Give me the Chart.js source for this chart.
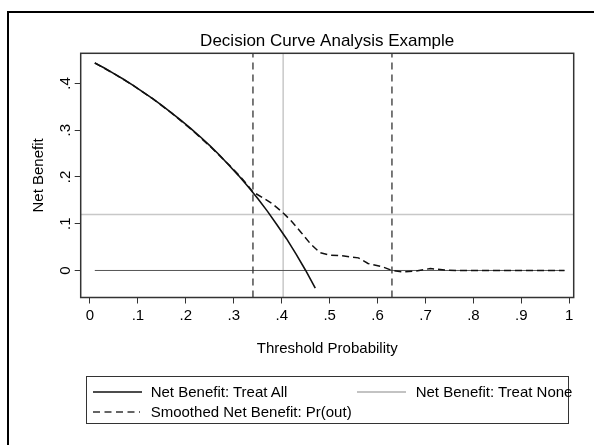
<!DOCTYPE html>
<html><head><meta charset="utf-8">
<script src="https://cdn.jsdelivr.net/npm/chart.js@4/dist/chart.umd.min.js"></script>
<style>
html,body{margin:0;padding:0;background:#fff;overflow:hidden;}
#wrap{position:relative;width:594px;height:445px;overflow:hidden;background:#fff;}
#frame{position:absolute;left:7px;top:11px;width:1000px;height:1000px;border:2px solid #000;}
canvas{position:absolute;left:0;top:0;}
#legend{position:absolute;left:86px;top:376px;width:481px;height:46px;border:1px solid #333;}
.ltext{position:absolute;white-space:nowrap;line-height:18px;font:15px 'Liberation Sans',Arial,sans-serif;color:#000;}
svg.ls{position:absolute;overflow:visible;}
</style></head>
<body><div id="wrap"><div id="frame"></div><canvas id="c" width="594" height="445"></canvas><div id="legend"></div></div>
<script>
// ---- data ----
const chartTitle = 'Decision Curve Analysis Example';
const xTitle = 'Threshold Probability';
const yTitle = 'Net Benefit';
const seriesNames = ['Net Benefit: Treat All', 'Net Benefit: Treat None', 'Smoothed Net Benefit: Pr(out)'];

const xTicks = [0, 0.1, 0.2, 0.3, 0.4, 0.5, 0.6, 0.7, 0.8, 0.9, 1];
const xTickLabels = ['0', '.1', '.2', '.3', '.4', '.5', '.6', '.7', '.8', '.9', '1'];
const yTicks = [0, 0.1, 0.2, 0.3, 0.4];
const yTickLabels = ['0', '.1', '.2', '.3', '.4'];

const treatAllX = [0.01,0.03,0.05,0.07,0.09,0.11,0.13,0.15,0.17,0.19,0.21,0.23,0.25,0.27,0.29,0.31,0.33,0.35,0.37,0.39,0.41,0.43,0.45,0.47];
const treatAllY = [0.444,0.433,0.421,0.409,0.396,0.382,0.368,0.353,0.337,0.321,0.304,0.286,0.267,0.247,0.225,0.203,0.179,0.154,0.127,0.098,0.068,0.035,0.000,-0.038];

const treatNoneX = [0.01, 0.99];
const treatNoneY = [0, 0];

const smoothX = [0.01,0.05,0.09,0.13,0.17,0.21,0.25,0.29,0.31,0.33,0.34,0.36,0.38,0.40,0.42,0.44,0.46,0.48,0.50,0.53,0.56,0.58,0.61,0.63,0.65,0.68,0.71,0.74,0.77,0.80,0.85,0.90,0.95,0.99];
const smoothY = [0.444,0.421,0.396,0.368,0.337,0.303,0.266,0.226,0.205,0.181,0.168,0.156,0.143,0.126,0.106,0.082,0.057,0.038,0.033,0.031,0.027,0.015,0.008,0.000,-0.003,-0.001,0.004,0.001,0,0,0,0,0,0];

const dashedRefX = [0.34, 0.63];
const grayRefX = [0.403];
const grayRefY = [0.12];

const xMin = -0.0194, xMax = 1.0092;
const yMin = -0.0578, yMax = 0.4646;

// ---- build ----
const FONT = "'Liberation Sans', Arial, sans-serif";
const pts = (xs, ys) => xs.map((x, i) => ({x: x, y: ys[i]}));

const datasets = [];
grayRefX.forEach(v => datasets.push({label: 'ref', data: [{x: v, y: yMin}, {x: v, y: yMax}], borderColor: '#c8c8c8', borderWidth: 1.5, order: 10}));
grayRefY.forEach(v => datasets.push({label: 'ref', data: [{x: xMin, y: v}, {x: xMax, y: v}], borderColor: '#c8c8c8', borderWidth: 1.5, order: 10}));
datasets.push({label: seriesNames[1], data: pts(treatNoneX, treatNoneY), borderColor: '#555', borderWidth: 1, order: 8});
dashedRefX.forEach(v => datasets.push({label: 'ref', data: [{x: v, y: yMin}, {x: v, y: yMax}], borderColor: '#333', borderWidth: 1.3, borderDash: [7, 5], order: 7}));
datasets.push({label: seriesNames[0], data: pts(treatAllX, treatAllY), borderColor: '#111', borderWidth: 1.6, order: 2});
datasets.push({label: seriesNames[2], data: pts(smoothX, smoothY), borderColor: '#111', borderWidth: 1.5, borderDash: [7, 4], order: 1});
datasets.forEach(d => { d.pointRadius = 0; d.tension = 0; d.fill = false; });

const plotBorder = {
  id: 'plotBorder',
  afterDatasetsDraw(chart) {
    const a = chart.chartArea, ctx = chart.ctx;
    ctx.save(); ctx.strokeStyle = '#333'; ctx.lineWidth = 1.5;
    ctx.strokeRect(a.left, a.top, a.right - a.left, a.bottom - a.top);
    ctx.restore();
  }
};
const rotYLabels = {
  id: 'rotYLabels',
  afterDraw(chart) {
    const s = chart.scales.y, ctx = chart.ctx;
    ctx.save(); ctx.font = '15px ' + FONT; ctx.fillStyle = '#000';
    ctx.textAlign = 'center'; ctx.textBaseline = 'middle';
    yTicks.forEach((v, i) => {
      const y = s.getPixelForValue(v);
      ctx.save(); ctx.translate(66, y); ctx.rotate(-Math.PI / 2);
      ctx.fillText(yTickLabels[i], 0, 0); ctx.restore();
    });
    ctx.restore();
  }
};

new Chart(document.getElementById('c'), {
  type: 'line',
  data: {datasets: datasets},
  plugins: [plotBorder, rotYLabels],
  options: {
    responsive: false, animation: false, devicePixelRatio: 1,
    layout: {padding: {left: 0, top: 31.3, right: 20.3, bottom: 87}},
    plugins: {
      legend: {display: false},
      tooltip: {enabled: false},
      title: {display: true, fullSize: false, text: chartTitle, color: '#000', font: {family: FONT, size: 17, weight: 'normal'}, padding: {top: 0, bottom: 1.6}}
    },
    scales: {
      x: {
        type: 'linear', min: xMin, max: xMax,
        afterBuildTicks: s => { s.ticks = xTicks.map(v => ({value: v})); },
        afterFit: s => { s.height = 60.5; },
        ticks: {autoSkip: false, maxRotation: 0, minRotation: 0, padding: 3, color: '#000', font: {family: FONT, size: 15},
          callback: v => xTickLabels[xTicks.findIndex(t => Math.abs(t - v) < 1e-6)]},
        grid: {drawOnChartArea: false, drawTicks: true, tickLength: 6, color: '#333', lineWidth: 1},
        border: {display: false},
        title: {display: true, text: xTitle, color: '#000', font: {family: FONT, size: 15}, padding: {top: 4, bottom: 0}}
      },
      y: {
        type: 'linear', min: yMin, max: yMax,
        afterBuildTicks: s => { s.ticks = yTicks.map(v => ({value: v})); },
        afterFit: s => { s.width = 80.7; },
        ticks: {autoSkip: false, padding: 3, color: 'rgba(0,0,0,0)', font: {family: FONT, size: 15},
          callback: v => yTickLabels[yTicks.findIndex(t => Math.abs(t - v) < 1e-6)]},
        grid: {drawOnChartArea: false, drawTicks: true, tickLength: 6, color: '#333', lineWidth: 1},
        border: {display: false},
        title: {display: true, text: yTitle, color: '#000', font: {family: FONT, size: 15}, padding: {top: 29.5, bottom: 0}}
      }
    }
  }
});

// ---- HTML legend ----
const wrap = document.getElementById('wrap');
const legendLayout = [
  {x1: 93, x2: 142, y: 391.7, tx: 150.7, color: '#111', w: 1.6, dash: null},
  {x1: 357, x2: 406, y: 391.7, tx: 415.7, color: '#888', w: 1.2, dash: null},
  {x1: 93, x2: 140, y: 412.3, tx: 150.7, color: '#333', w: 1.5, dash: '7,4.5'}
];
seriesNames.forEach((name, i) => {
  const L = legendLayout[i];
  const svg = document.createElementNS('http://www.w3.org/2000/svg', 'svg');
  svg.setAttribute('class', 'ls');
  svg.setAttribute('width', L.x2 - L.x1); svg.setAttribute('height', 4);
  svg.style.left = L.x1 + 'px'; svg.style.top = (L.y - 2) + 'px';
  const ln = document.createElementNS('http://www.w3.org/2000/svg', 'line');
  ln.setAttribute('x1', 0); ln.setAttribute('x2', L.x2 - L.x1); ln.setAttribute('y1', 2); ln.setAttribute('y2', 2);
  ln.setAttribute('stroke', L.color); ln.setAttribute('stroke-width', L.w);
  if (L.dash) ln.setAttribute('stroke-dasharray', L.dash);
  svg.appendChild(ln); wrap.appendChild(svg);
  const t = document.createElement('div');
  t.className = 'ltext'; t.textContent = name;
  t.style.left = L.tx + 'px'; t.style.top = (L.y - 9) + 'px';
  wrap.appendChild(t);
});
</script>
</body></html>
